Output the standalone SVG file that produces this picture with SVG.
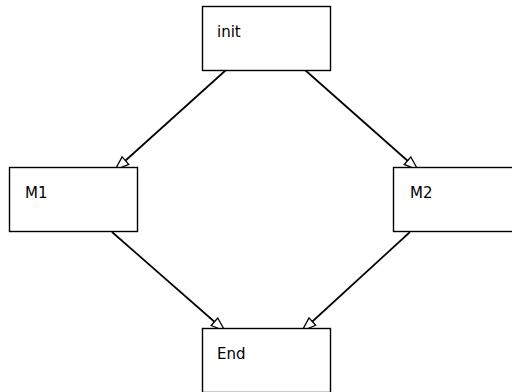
<svg xmlns="http://www.w3.org/2000/svg" width="512" height="392" viewBox="0 0 512 392">
  <style>
    .box { fill: #ffffff; stroke: #000000; stroke-width: 1.4; }
    .label { font-family: "DejaVu Sans", sans-serif; font-size: 15px; fill: #000000; }
    .edge { fill: none; stroke: #000000; stroke-width: 1.7; marker-end: url(#open-arrow); }
  </style>
  <defs>
    <marker id="open-arrow" markerUnits="userSpaceOnUse" markerWidth="16" markerHeight="12" viewBox="0 0 16 12" refX="15" refY="6" orient="auto">
      <path d="M1,1 L15,6 L1,11 Z" fill="#ffffff" stroke="#000000" stroke-width="1.3"/>
    </marker>
  </defs>
  <rect width="512" height="392" fill="#ffffff"/>

  <g id="connectors">
    <line class="edge" x1="226" y1="70" x2="115" y2="170"/>
    <line class="edge" x1="305" y1="70" x2="418" y2="170"/>
    <line class="edge" x1="112" y1="232" x2="225" y2="331"/>
    <line class="edge" x1="410" y1="232" x2="302" y2="331"/>
  </g>

  <g id="init">
    <rect class="box" x="202.5" y="6.5" width="128" height="64"/>
    <text class="label" x="217" y="37">init</text>
  </g>
  <g id="M1">
    <rect class="box" x="9.5" y="167.5" width="128" height="64"/>
    <text class="label" x="25" y="198">M1</text>
  </g>
  <g id="M2">
    <rect class="box" x="393.5" y="167.5" width="128" height="64"/>
    <text class="label" x="410" y="198">M2</text>
  </g>
  <g id="End">
    <rect class="box" x="202.5" y="328.5" width="128" height="64"/>
    <text class="label" x="217" y="359">End</text>
  </g>
</svg>
